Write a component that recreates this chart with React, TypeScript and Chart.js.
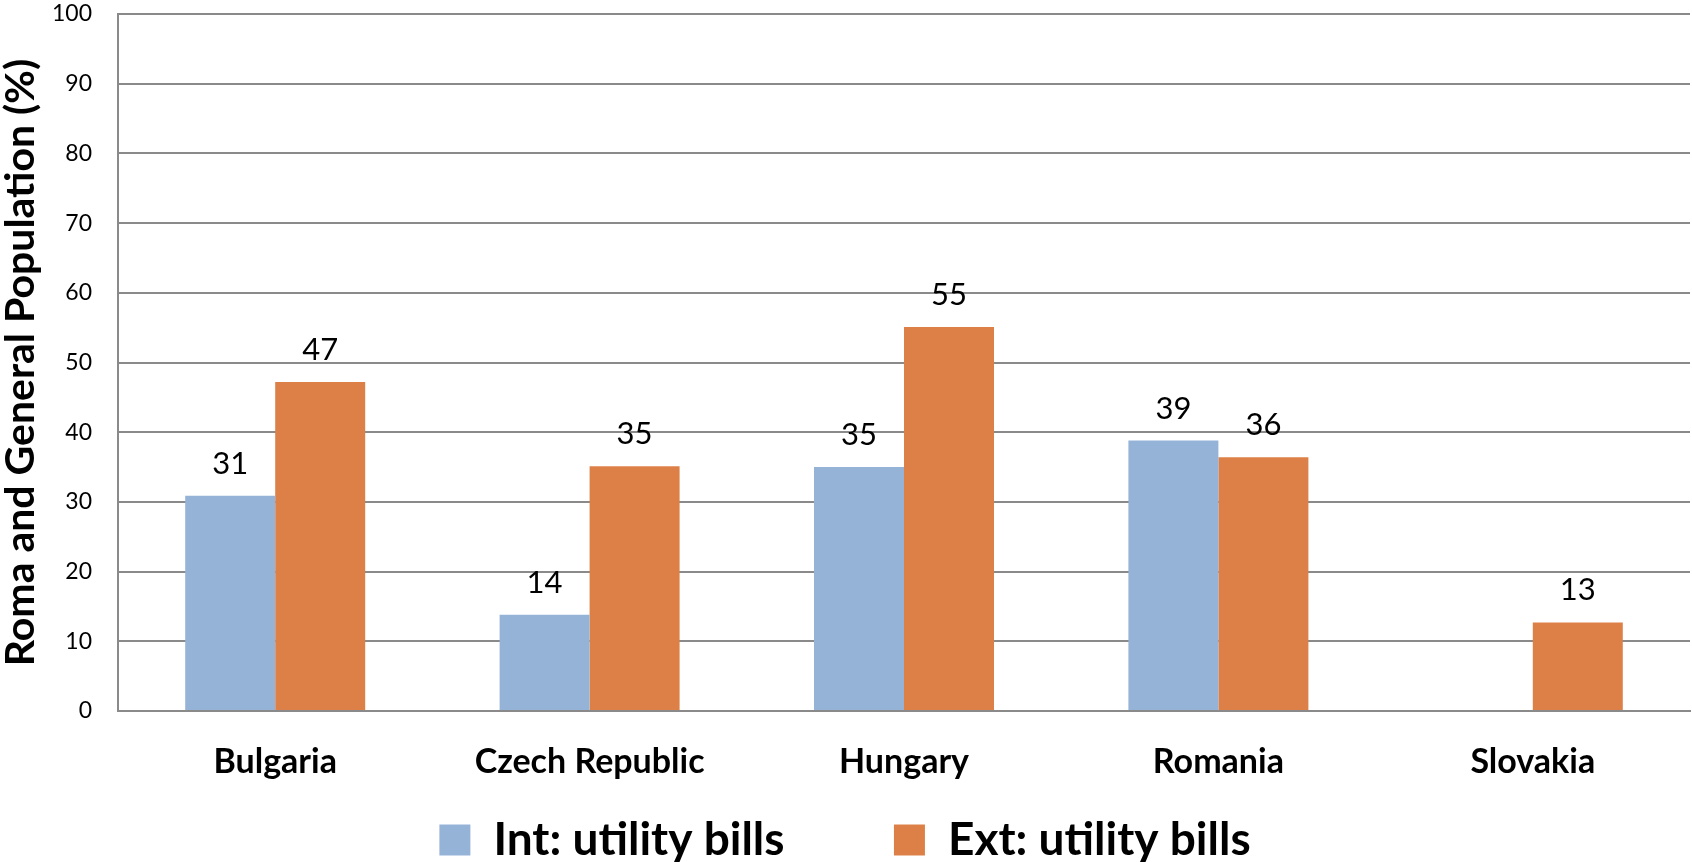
import React, { useEffect, useRef } from "react";
import { Chart, registerables } from "chart.js";

Chart.register(...registerables);

const categories = ["Bulgaria", "Czech Republic", "Hungary", "Romania", "Slovakia"];
const intValues: (number | null)[] = [30.9, 13.8, 35.0, 38.8, null];
const extValues: (number | null)[] = [47.2, 35.1, 55.1, 36.4, 12.7];
const intLabels = ["31", "14", "35", "39", ""];
const extLabels = ["47", "35", "55", "36", "13"];
const seriesNames = ["Int: utility bills", "Ext: utility bills"];
const yTicks = [0, 10, 20, 30, 40, 50, 60, 70, 80, 90, 100];

const FONT = "Lato";
const LEGEND_GAP = "        ";

const dataLabelPlugin = {
  id: "dataLabels",
  afterDatasetsDraw(chart: any) {
    const ctx = chart.ctx;
    const labelSets = [intLabels, extLabels];
    ctx.save();
    ctx.font = `31px ${FONT}`;
    ctx.fillStyle = "#000";
    ctx.textAlign = "center";
    ctx.textBaseline = "alphabetic";
    chart.data.datasets.forEach((ds: any, di: number) => {
      const meta = chart.getDatasetMeta(di);
      meta.data.forEach((el: any, i: number) => {
        const v = ds.data[i];
        if (v === null || v === undefined) return;
        ctx.fillText(labelSets[di][i], el.x, el.y - 22);
      });
    });
    ctx.restore();
  },
};

export default function App() {
  const ref = useRef<HTMLCanvasElement | null>(null);
  useEffect(() => {
    document.body.style.margin = "0";
    if (!ref.current) return;
    const chart = new Chart(ref.current, {
      type: "bar",
      data: {
        labels: categories,
        datasets: [
          {
            label: seriesNames[0] + LEGEND_GAP,
            data: intValues,
            backgroundColor: "#95b3d7",
            categoryPercentage: 0.5725,
            barPercentage: 1,
          },
          {
            label: seriesNames[1],
            data: extValues,
            backgroundColor: "#dd8048",
            categoryPercentage: 0.5725,
            barPercentage: 1,
          },
        ],
      },
      options: {
        animation: false,
        responsive: false,
        maintainAspectRatio: false,
        layout: { padding: { top: 14, right: 2, left: 0, bottom: -11 } },
        plugins: {
          tooltip: { enabled: false },
          legend: {
            position: "bottom",
            labels: {
              boxWidth: 31,
              boxHeight: 31,
              padding: 20,
              color: "#000",
              font: { family: FONT, size: 46, weight: "bold" },
            },
          },
        },
        scales: {
          x: {
            grid: { display: false, drawTicks: false },
            border: { display: true, color: "#8a8a8a", width: 2 },
            ticks: {
              color: "#000",
              padding: 31,
              font: { family: FONT, size: 34, weight: "bold" },
            },
            afterFit: (scale: any) => {
              scale.height = 86;
            },
          },
          y: {
            min: 0,
            max: 100,
            afterBuildTicks: (scale: any) => {
              scale.ticks = yTicks.map((v) => ({ value: v }));
            },
            afterFit: (scale: any) => {
              scale.width = 118;
              scale.paddingTop = 0;
              scale.paddingBottom = 0;
            },
            grid: { color: "#8a8a8a", lineWidth: 2, drawTicks: false },
            border: { display: true, color: "#8a8a8a", width: 2 },
            ticks: {
              color: "#000",
              padding: 26,
              font: { family: FONT, size: 23 },
            },
            title: {
              display: true,
              text: "Roma and General Population (%)",
              color: "#000",
              padding: { top: 0, bottom: 10 },
              font: { family: FONT, size: 41, weight: "bold", lineHeight: 1 },
            },
          },
        },
      },
      plugins: [dataLabelPlugin],
    });
    return () => chart.destroy();
  }, []);
  return (
    <div style={{ width: 1692, height: 862 }}>
      <canvas ref={ref} width={1692} height={862} style={{ display: "block" }} />
    </div>
  );
}
